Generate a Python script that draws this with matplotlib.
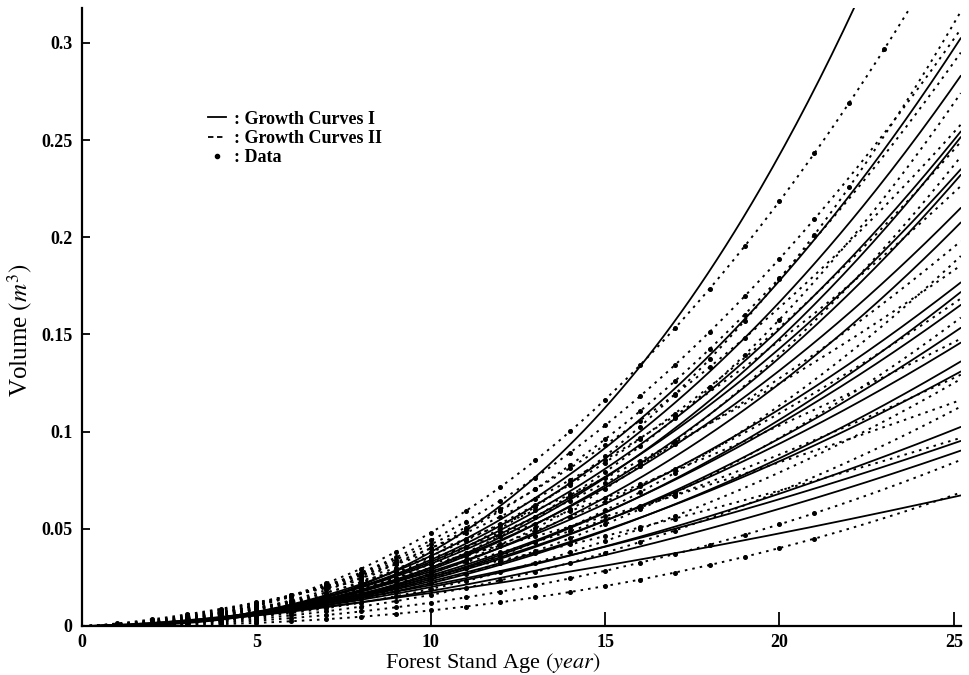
'''
Growth curves I and II of stand volume against forest stand age.
'''

import numpy as np
import matplotlib.pyplot as plt
from matplotlib.lines import Line2D

plt.rcParams['font.family'] = ['Liberation Serif', 'DejaVu Serif']
plt.rcParams['mathtext.fontset'] = 'stix'

# volume (m3) at age 10 and age 25 for every curve
solid_v10 = [0.038, 0.036, 0.034, 0.033, 0.030, 0.032, 0.029, 0.030, 0.027, 0.028,
             0.025, 0.026, 0.024, 0.025, 0.022, 0.023, 0.020, 0.021, 0.018, 0.017]
solid_v25 = [0.44, 0.297, 0.278, 0.250, 0.247, 0.231, 0.228, 0.2115, 0.204, 0.174,
             0.169, 0.1626, 0.151, 0.1436, 0.134, 0.129, 0.101, 0.094, 0.089, 0.0664]

dotted_v10 = [0.048, 0.032, 0.044, 0.040, 0.030, 0.042, 0.036, 0.027, 0.040, 0.034, 0.024,
              0.038, 0.030, 0.022, 0.035, 0.028, 0.019, 0.032, 0.016, 0.026, 0.012, 0.008]
dotted_v25 = [0.356, 0.310, 0.302, 0.290, 0.269, 0.254, 0.245, 0.237, 0.223, 0.195, 0.187,
              0.183, 0.166, 0.156, 0.146, 0.1276, 0.125, 0.115, 0.111, 0.0957, 0.084, 0.0674]

# last measured age of each stand (data dots)
last_age = [23, 22, 21, 20, 20, 19, 18, 17, 17, 17, 17,
            17, 17, 17, 17, 17, 17, 17, 17, 17, 21, 21]

x_ticks = [0, 5, 10, 15, 20, 25]
y_ticks = [0, 0.05, 0.1, 0.15, 0.2, 0.25, 0.3]
y_tick_labels = ['0', '0.05', '0.1', '0.15', '0.2', '0.25', '0.3']


# growth curve through the two read values (power form)
def Curve(t, v10, v25):
    b = np.log(v25 / v10) / np.log(2.5)
    return v25 * (t / 25.0) ** b


fig = plt.figure(figsize=(9.7, 6.75), dpi=100)
ax = fig.add_axes([0.0845, 0.0726, 0.906, 0.9156])

t = np.linspace(0, 25.2, 300)

for a, b in zip(solid_v10, solid_v25):
    ax.plot(t, Curve(t, a, b), color='black', linewidth=1.3, solid_capstyle='round')

for a, b in zip(dotted_v10, dotted_v25):
    ax.plot(t, Curve(t, a, b), color='black', linewidth=1.4, linestyle=(0, (1.3, 2.6)))

# data dots
for a, b, last in zip(dotted_v10, dotted_v25, last_age):
    ages = np.arange(1, last + 1)
    ax.plot(ages, Curve(ages, a, b), linestyle='none', marker='o', markersize=2.6,
            color='black')

ax.set_xlim(0, 25.2)
ax.set_ylim(0, 0.318)
ax.set_xticks(x_ticks)
ax.set_yticks(y_ticks)
ax.set_yticklabels(y_tick_labels)

for s in ['top', 'right']:
    ax.spines[s].set_visible(False)
for s in ['left', 'bottom']:
    ax.spines[s].set_linewidth(1.6)

ax.tick_params(axis='x', direction='in', length=10, width=1.3, pad=6, labelsize=13)
ax.tick_params(axis='y', direction='in', length=6, width=1.3, pad=7, labelsize=13)
for lab in ax.get_xticklabels() + ax.get_yticklabels():
    lab.set_fontweight('bold')

ax.set_xlabel('Forest Stand Age $(\\mathit{year})$', fontsize=16)
ax.xaxis.set_label_coords(0.4676, -0.04)
ax.set_ylabel('Volume $(\\mathit{m}^3)$', fontsize=18)
ax.yaxis.set_label_coords(-0.054, 0.479)

# legend
handles = [Line2D([], [], color='black', linewidth=1.3),
           Line2D([], [], color='black', linewidth=1.3, linestyle=(0, (3, 2))),
           Line2D([], [], color='black', linestyle='none', marker='o', markersize=3)]
labels = [': Growth Curves I', ': Growth Curves II', ': Data']
leg = ax.legend(handles, labels, loc='upper left', bbox_to_anchor=(0.125, 0.86),
                frameon=False, handlelength=1.0, handletextpad=0.45, labelspacing=0.12,
                prop={'weight': 'bold', 'size': 13})

plt.savefig('out.png', dpi=100)
plt.close()
